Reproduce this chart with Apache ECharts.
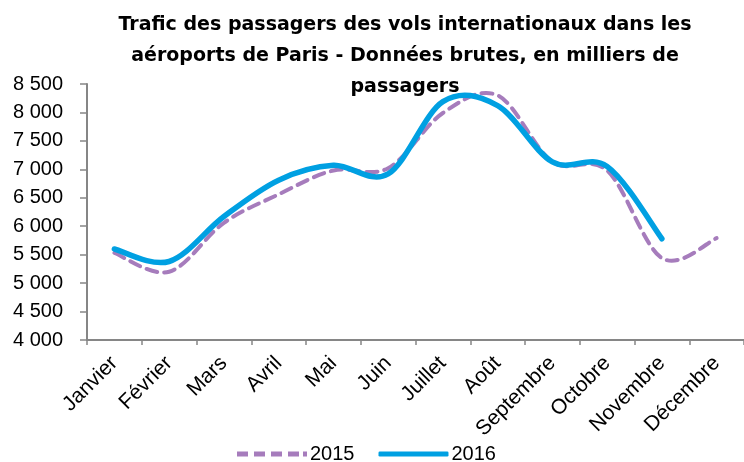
<!DOCTYPE html>
<html>
<head>
<meta charset="utf-8">
<script src="https://cdn.jsdelivr.net/npm/echarts@6/dist/echarts.min.js"></script>
<style>
  html, body { margin: 0; padding: 0; background: #fff; }
  #main { width: 744px; height: 462px; }
</style>
</head>
<body>
<div id="main"></div>
<script>
var chartDom = document.getElementById('main');
var myChart = echarts.init(chartDom);
var option;

// données (milliers de passagers)
var mois = ['Janvier', 'Février', 'Mars', 'Avril', 'Mai', 'Juin', 'Juillet', 'Août', 'Septembre', 'Octobre', 'Novembre', 'Décembre'];
var serie2015 = [5530, 5200, 6060, 6560, 6980, 7020, 7990, 8300, 7130, 6980, 5440, 5790];
var serie2016 = [5600, 5380, 6170, 6810, 7070, 6920, 8190, 8120, 7130, 7050, 5780];
var yMin = 4000;
var yMax = 8500;
var yStep = 500;

var violet = '#A67CBC';
var bleu = '#00A0E2';
var police = '"Liberation Sans", Arial, sans-serif';

// courbe lissée façon Excel (Catmull-Rom) posée sur les axes d'ECharts
function courbe(valeurs, style) {
    return function (params, api) {
        if (params.dataIndex !== 0) return null;
        var pts = valeurs.map(function (v, i) { return api.coord([i, v]); });
        var d = 'M' + pts[0][0] + ' ' + pts[0][1];
        for (var i = 0; i < pts.length - 1; i++) {
            var p0 = pts[Math.max(i - 1, 0)];
            var p1 = pts[i];
            var p2 = pts[i + 1];
            var p3 = pts[Math.min(i + 2, pts.length - 1)];
            d += ' C' + (p1[0] + (p2[0] - p0[0]) / 6) + ' ' + (p1[1] + (p2[1] - p0[1]) / 6) +
                ' ' + (p2[0] - (p3[0] - p1[0]) / 6) + ' ' + (p2[1] - (p3[1] - p1[1]) / 6) +
                ' ' + p2[0] + ' ' + p2[1];
        }
        return {
            type: 'path',
            shape: { pathData: d },
            style: style
        };
    };
}

option = {
    animation: false,
    title: {
        text: 'Trafic des passagers des vols internationaux dans les\naéroports de Paris - Données brutes, en milliers de\npassagers',
        left: 400,
        top: 5,
        textAlign: 'center',
        textStyle: {
            fontFamily: '"DejaVu Sans", sans-serif',
            fontSize: 19,
            fontWeight: 'bold',
            color: '#000',
            lineHeight: 31
        }
    },
    legend: {
        top: 439,
        left: 232,
        itemWidth: 70,
        itemHeight: 5,
        itemGap: 24,
        textStyle: { fontFamily: police, fontSize: 20, color: '#000', padding: [0, 0, 0, -2] },
        data: [
            { name: '2015', icon: 'path://M0,0H11V5H0Z M17,0H28V5H17Z M34,0H45V5H34Z M51,0H62V5H51Z M66,0H70V5H66Z' },
            { name: '2016', icon: 'roundRect' }
        ]
    },
    grid: {
        left: 87,
        right: -7,
        top: 84,
        bottom: 122
    },
    xAxis: {
        type: 'category',
        data: mois,
        boundaryGap: true,
        axisLine: { lineStyle: { color: '#868686', width: 2 } },
        axisTick: { show: true, length: 5, lineStyle: { color: '#868686', width: 1.5 } },
        axisLabel: {
            rotate: 45,
            interval: 0,
            margin: 20,
            fontFamily: police,
            fontSize: 21,
            color: '#000'
        }
    },
    yAxis: {
        type: 'value',
        min: yMin,
        max: yMax,
        interval: yStep,
        splitLine: { show: false },
        axisLine: { show: true, lineStyle: { color: '#868686', width: 2 } },
        axisTick: { show: true, length: 7, lineStyle: { color: '#868686', width: 1.5 } },
        axisLabel: {
            margin: 24,
            fontFamily: police,
            fontSize: 20,
            color: '#000',
            formatter: function (v) {
                return String(v).replace(/\B(?=(\d{3})+(?!\d))/g, ' ');
            }
        }
    },
    series: [
        {
            name: '2015',
            type: 'custom',
            data: serie2015,
            itemStyle: { color: violet },
            renderItem: courbe(serie2015, {
                fill: 'none', stroke: violet, lineWidth: 4, lineDash: [11, 7], lineCap: 'round'
            })
        },
        {
            name: '2016',
            type: 'custom',
            data: serie2016,
            itemStyle: { color: bleu },
            renderItem: courbe(serie2016, {
                fill: 'none', stroke: bleu, lineWidth: 5.5, lineCap: 'round', lineJoin: 'round'
            })
        }
    ]
};

option && myChart.setOption(option);
</script>
</body>
</html>
